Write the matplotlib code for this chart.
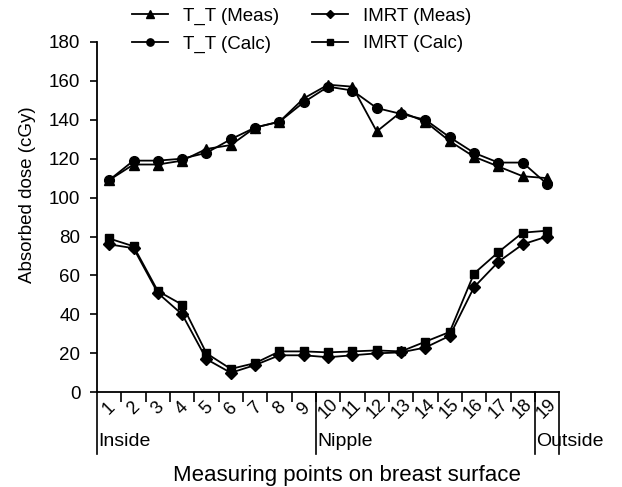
import matplotlib
matplotlib.use('Agg')
import matplotlib.pyplot as plt
import numpy as np

plt.rcParams['font.family'] = ['Liberation Sans', 'DejaVu Sans']

points = list(range(1, 20))
tt_meas = [109, 117, 117, 119, 125, 127, 136, 139, 151, 158, 157, 134, 144, 139, 129, 121, 116, 111, 110]
tt_calc = [109, 119, 119, 120, 123, 130, 136, 139, 149, 157, 155, 146, 143, 140, 131, 123, 118, 118, 107]
imrt_meas = [76, 74, 51, 40, 17, 10, 14, 19, 19, 18, 19, 20, 20.5, 23, 29, 54, 67, 76, 80]
imrt_calc = [79, 75, 52, 45, 20, 12, 15, 21, 21, 20.5, 21, 21.5, 21, 26, 31, 61, 72, 82, 83]

regions = ['Inside', 'Nipple', 'Outside']
region_starts = [1, 10, 19]

fig = plt.figure(figsize=(6.22, 4.87), dpi=100)
ax = fig.add_axes([0.156, 0.1945, 0.743, 0.7195])

style = dict(color='black', lw=1.3, clip_on=False)
ax.plot(points, tt_meas, marker='^', ms=7, label='T_T (Meas)', **style)
ax.plot(points, tt_calc, marker='o', ms=7, label='T_T (Calc)', **style)
ax.plot(points, imrt_meas, marker='D', ms=6, label='IMRT (Meas)', **style)
ax.plot(points, imrt_calc, marker='s', ms=6, label='IMRT (Calc)', **style)

ax.set_xlim(0.5, 19.5)
ax.set_ylim(0, 180)
ax.set_yticks(np.arange(0, 181, 20))
ax.tick_params(axis='y', labelsize=13.5, length=5, width=1.2, direction='out', pad=7)
ax.set_xticks(np.arange(1.5, 19, 1))
ax.set_xticklabels([])
ax.tick_params(axis='x', length=7, width=1.2, direction='out')
for side in ['top', 'right']:
    ax.spines[side].set_visible(False)
for side in ['left', 'bottom']:
    ax.spines[side].set_linewidth(1.3)

trans = ax.get_xaxis_transform()
for p in points:
    ax.text(p, -0.047, str(p), transform=trans, rotation=45, ha='center', va='center', fontsize=13)

for x in [0.5, 9.5, 18.5, 19.5]:
    ax.plot([x, x], [0, -0.175], transform=trans, color='black', lw=1.2, clip_on=False)
for name, start in zip(regions, region_starts):
    ax.text(start - 0.45, -0.14, name, transform=trans, ha='left', va='center', fontsize=14)

fig.text(0.045, 0.6, 'Absorbed dose (cGy)', rotation=90, ha='center', va='center', fontsize=13.5)
fig.text(0.558, 0.024, 'Measuring points on breast surface', ha='center', va='center', fontsize=16)

fig.legend(loc='upper left', bbox_to_anchor=(0.197, 1.003), ncol=2, frameon=False,
           fontsize=13.5, borderpad=0, labelspacing=0.55, handlelength=1.9,
           handletextpad=0.8, columnspacing=1.8, markerscale=0.75)

fig.savefig('out.png', dpi=100)
